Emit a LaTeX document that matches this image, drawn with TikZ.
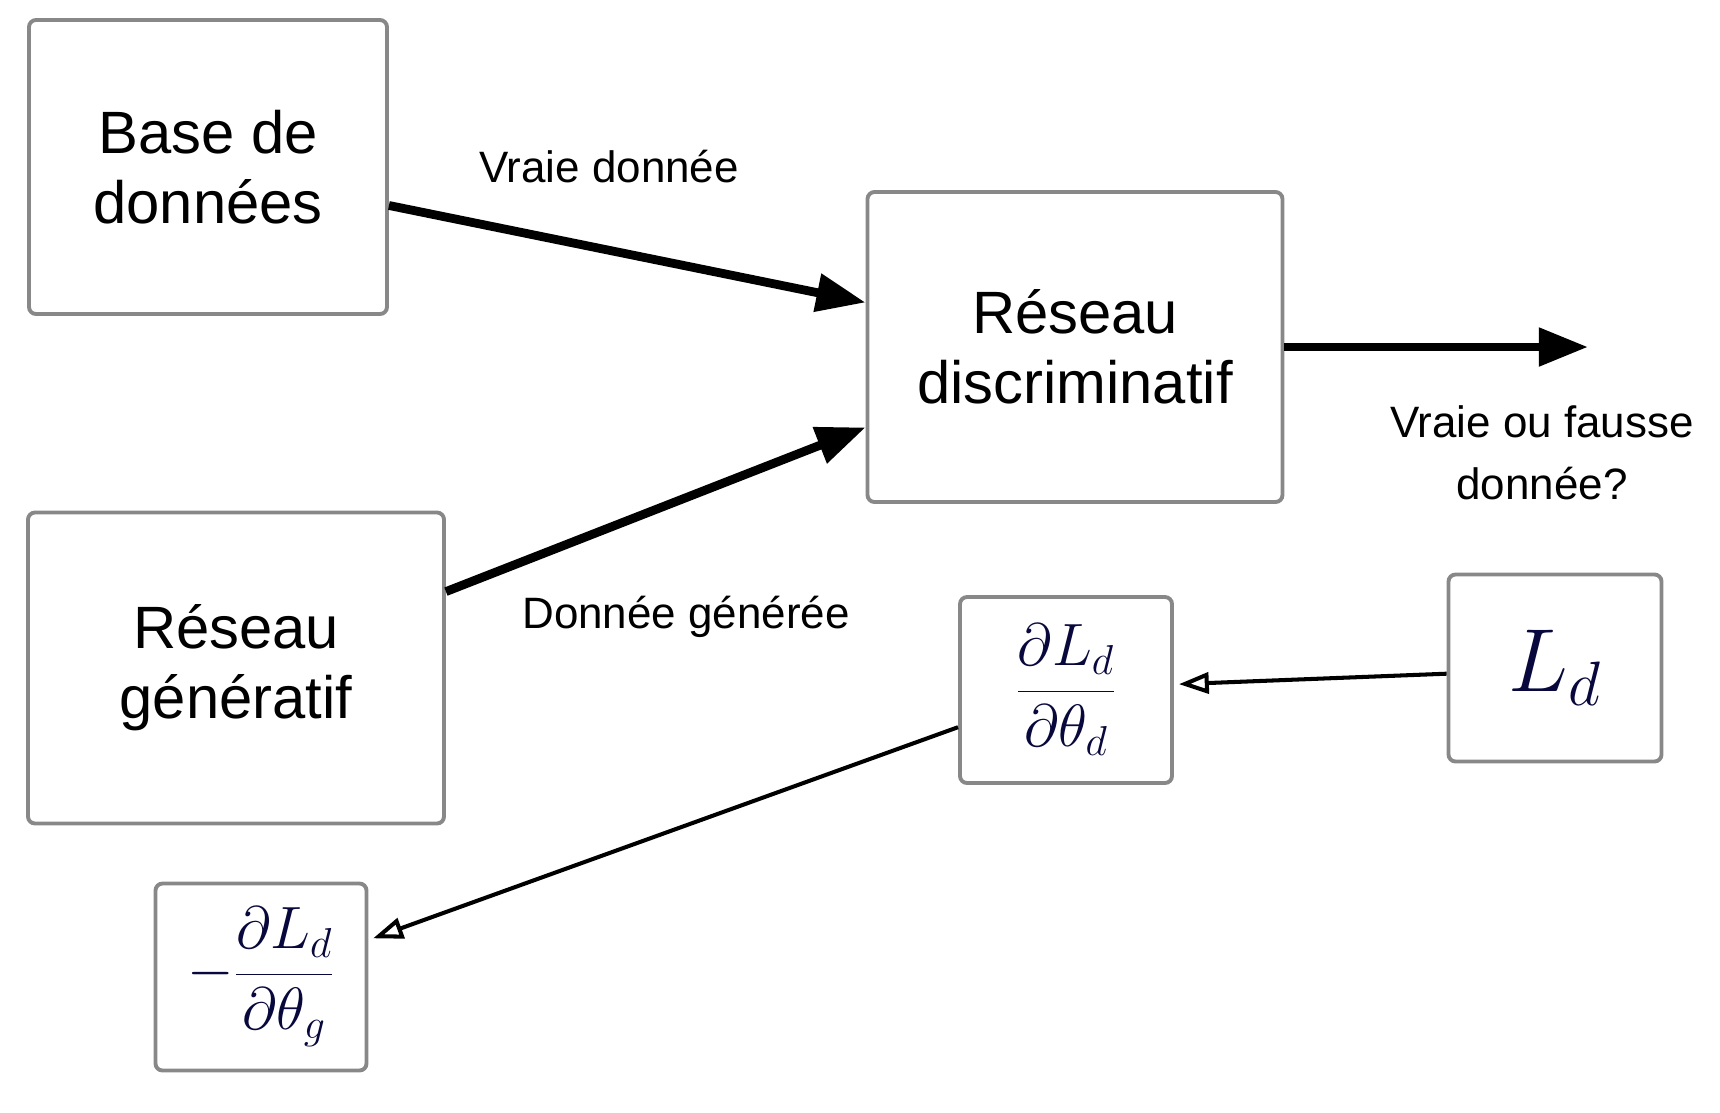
\RequirePackage{fix-cm}
\documentclass[tikz,border=0pt]{standalone}
\usepackage[no-math]{fontspec}
\setmainfont{Liberation Sans}
\usetikzlibrary{arrows.meta}
\definecolor{boxgray}{RGB}{136,136,136}
\definecolor{mathnavy}{RGB}{8,8,60}
\begin{document}
\begin{tikzpicture}[x=0.2mm,y=-0.2mm,
        box/.style={draw=boxgray,line width=2.2pt,rounded corners=4pt,
           inner sep=0pt,align=center,font=\fontsize{34}{40}\selectfont},
        math box/.style={box,text=mathnavy,font=\fontsize{34}{40}\selectfont},
        label text/.style={align=center,font=\fontsize{25}{35}\selectfont},
        thick line/.style={line width=5pt,
           -{Triangle[length=28pt,width=21pt]}},
        thin line/.style={line width=2.3pt,shorten >=1mm,
           -{Triangle[open,length=17pt,width=12pt]}},
    ]
    \useasboundingbox (0,0) rectangle (1720,1112);
    \draw
    	(208,167) node[box,minimum width=71.6mm,minimum height=58.8mm] (base) {Base de\\données}
    	(1075,347) node[box,minimum width=83mm,minimum height=62mm] (discr) {Réseau\\discriminatif}
    	(236,668) node[box,minimum width=83.2mm,minimum height=62.2mm] (gen) {Réseau\\génératif}
    	(1066,690) node[math box,minimum width=42.4mm,minimum height=37.2mm] (gradd)
    		{$\displaystyle\frac{\partial L_d}{\partial\theta_d}$}
    	(1555,668) node[math box,minimum width=42.6mm,minimum height=37.4mm,
    		font=\fontsize{51}{60}\selectfont] (loss) {$L_d$}
    	(261,977) node[math box,minimum width=42.2mm,minimum height=37.4mm] (gradg)
    		{$\displaystyle-\frac{\partial L_d}{\partial\theta_g}$}
	    ;
	\draw
		(609,167) node[label text] (real) {Vraie donnée}
		(686,617) node[label text] (fake) {Donnée générée}
		(1542,453) node[label text] (verdict) {Vraie ou fausse\\donnée?}
		;
	\coordinate (out) at (1588,347);
	% forward pass
	\draw[thick line] (base.-12.3) -- (discr.168.2);
	\draw[thick line] (gen.20.8) -- (discr.201);
	\draw[thick line] (discr.east) -- (out);
	% gradients
	\draw[thin line] (loss.183) -- (gradd.3);
	\draw[thin line] (gradd.199) -- (gradg.19.7);
\end{tikzpicture}
\end{document}
